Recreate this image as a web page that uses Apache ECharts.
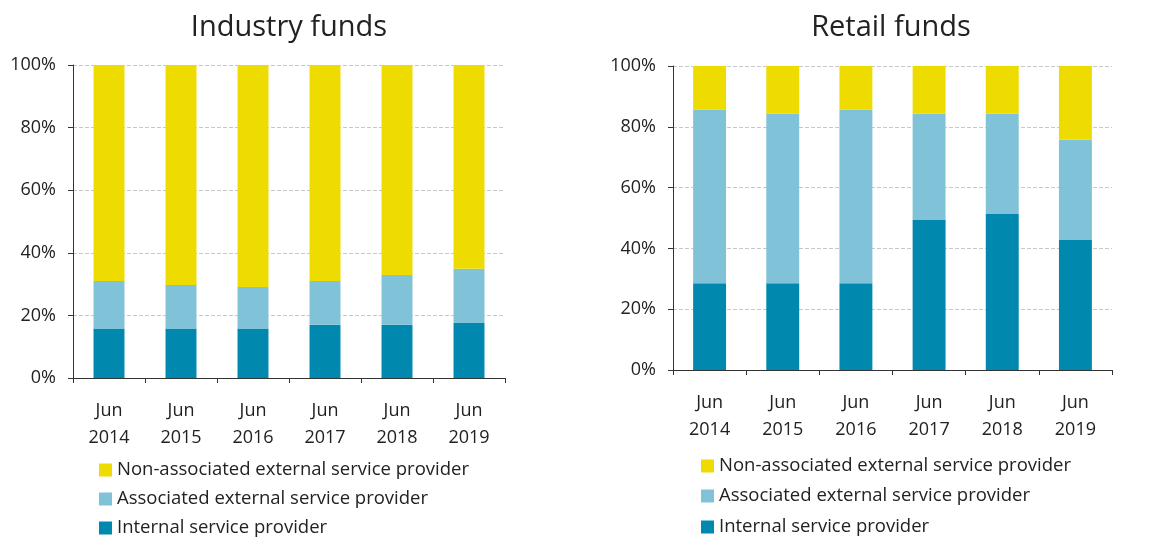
<!DOCTYPE html>
<html>
<head>
<meta charset="utf-8">
<script src="https://cdn.jsdelivr.net/npm/echarts@6/dist/echarts.min.js"></script>
<style>
  html, body { margin: 0; padding: 0; background: #fff; }
  #main { width: 1154px; height: 537px; }
</style>
</head>
<body>
<div id="main"></div>
<script>
// categories
const years = ['Jun\n2014', 'Jun\n2015', 'Jun\n2016', 'Jun\n2017', 'Jun\n2018', 'Jun\n2019'];
const seriesNames = ['Non-associated external service provider', 'Associated external service provider', 'Internal service provider'];

// Industry funds (% share)
const industryInternal = [15.8, 15.8, 15.8, 17.0, 17.0, 17.6];
const industryAssoc = [15.2, 13.9, 13.3, 14.0, 15.9, 17.3];
const industryNonAssoc = [69.0, 70.3, 70.9, 69.0, 67.1, 65.1];

// Retail funds (% share)
const retailInternal = [28.5, 28.5, 28.5, 49.5, 51.5, 42.9];
const retailAssoc = [57.2, 55.8, 57.2, 34.8, 32.8, 32.9];
const retailNonAssoc = [14.3, 15.7, 14.3, 15.7, 15.7, 24.2];

const colors = { nonAssoc: '#EEDC00', assoc: '#80C3D8', internal: '#0088AE' };
const font = 'Open Sans';

const chart = echarts.init(document.getElementById('main'));

function xAxis(gridIndex) {
  return {
    type: 'category',
    gridIndex: gridIndex,
    data: years,
    axisLine: { lineStyle: { color: '#333', width: 1 } },
    axisTick: { show: true, length: 5, lineStyle: { color: '#333' } },
    axisLabel: { color: '#222', fontSize: 18, fontFamily: font, lineHeight: 27, margin: 19 }
  };
}

function yAxis(gridIndex) {
  return {
    type: 'value',
    gridIndex: gridIndex,
    min: 0,
    max: 100,
    interval: 20,
    axisLine: { show: true, lineStyle: { color: '#333', width: 1 } },
    axisTick: { show: true, length: 5, lineStyle: { color: '#333' } },
    axisLabel: { formatter: '{value}%', color: '#222', fontSize: 18, fontFamily: font, margin: 17 },
    splitLine: { lineStyle: { color: '#c8c8c8', type: 'dashed' } }
  };
}

function bar(name, data, color, idx, width) {
  return {
    name: name,
    type: 'bar',
    stack: 'total' + idx,
    xAxisIndex: idx,
    yAxisIndex: idx,
    barWidth: width,
    data: data,
    itemStyle: { color: color },
    emphasis: { disabled: true }
  };
}

// one legend per item so the lower rows do not wrap at the page bottom
function legend(name, left, centerY) {
  return {
    left: left,
    top: centerY - 11,
    padding: 0,
    itemWidth: 13,
    itemHeight: 13,
    icon: 'rect',
    data: [name],
    textStyle: { color: '#222', fontSize: 18.5, fontFamily: font, lineHeight: 22 }
  };
}

const option = {
  animation: false,
  color: [colors.nonAssoc, colors.assoc, colors.internal],
  title: [
    { text: 'Industry funds', left: 284, top: 8, textAlign: 'center',
      textStyle: { fontSize: 29, fontWeight: 'normal', color: '#222', fontFamily: font } },
    { text: 'Retail funds', left: 886, top: 8, textAlign: 'center',
      textStyle: { fontSize: 29, fontWeight: 'normal', color: '#222', fontFamily: font } }
  ],
  grid: [
    { left: 73, top: 65, width: 432, height: 313 },
    { left: 673, top: 66, width: 439, height: 304 }
  ],
  xAxis: [xAxis(0), xAxis(1)],
  yAxis: [yAxis(0), yAxis(1)],
  legend: [
    legend(seriesNames[0], 99, 470),
    legend(seriesNames[1], 99, 499),
    legend(seriesNames[2], 99, 528),
    legend(seriesNames[0], 701, 466),
    legend(seriesNames[1], 701, 496),
    legend(seriesNames[2], 701, 527)
  ],
  series: [
    bar(seriesNames[2], industryInternal, colors.internal, 0, '43%'),
    bar(seriesNames[1], industryAssoc, colors.assoc, 0, '43%'),
    bar(seriesNames[0], industryNonAssoc, colors.nonAssoc, 0, '43%'),
    bar(seriesNames[2], retailInternal, colors.internal, 1, '45%'),
    bar(seriesNames[1], retailAssoc, colors.assoc, 1, '45%'),
    bar(seriesNames[0], retailNonAssoc, colors.nonAssoc, 1, '45%')
  ]
};

chart.setOption(option);
</script>
</body>
</html>
